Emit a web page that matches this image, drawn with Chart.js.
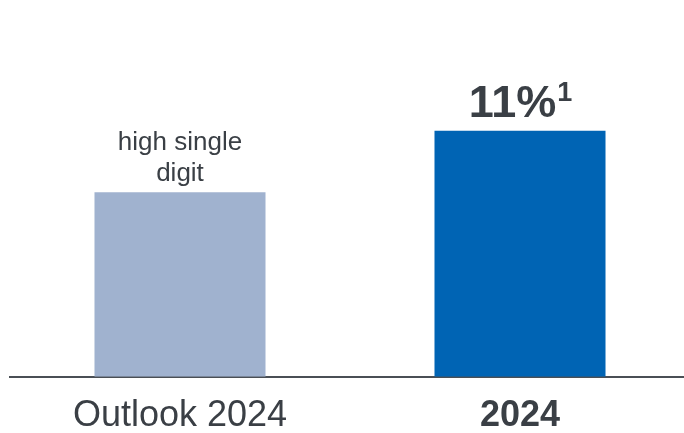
<!DOCTYPE html>
<html>
<head>
<meta charset="utf-8">
<script src="https://cdn.jsdelivr.net/npm/chart.js@4.4.1/dist/chart.umd.min.js"></script>
<style>
    html, body { margin: 0; padding: 0; background: #fff; overflow: hidden; }
    #outer { width: 684px; height: 433px; overflow: hidden; }
    #wrap { position: relative; width: 690px; height: 457px; }
</style>
</head>
<body>
<div id="outer"><div id="wrap"><canvas id="growth"></canvas></div></div>
<script>

const categories = ['Outlook 2024', '2024'];
const values = [8.25, 11];
const barColors = ['#A0B2CF', '#0064B4'];
const valueLabels = [['high single', 'digit'], ['11%']];
const footnotes = ['', '1'];

const textColor = '#3A3F45';

// writes the label above each bar, using the bar element positions
const barLabels = {
    id: 'barLabels',
    afterDatasetsDraw(chart) {
        const ctx = chart.ctx;
        const meta = chart.getDatasetMeta(0);
        ctx.save();
        ctx.fillStyle = textColor;
        ctx.textBaseline = 'alphabetic';
        meta.data.forEach((bar, i) => {
            const lines = valueLabels[i];
            if (footnotes[i]) {
                // bold figure with a raised footnote mark
                ctx.font = 'bold 45px "Liberation Sans", Arial, sans-serif';
                const w = ctx.measureText(lines[0]).width;
                ctx.font = 'bold 27px "Liberation Sans", Arial, sans-serif';
                const fw = ctx.measureText(footnotes[i]).width;
                const left = bar.x - (w + fw) / 2;
                const base = bar.y - 14;
                ctx.textAlign = 'left';
                ctx.font = 'bold 45px "Liberation Sans", Arial, sans-serif';
                ctx.fillText(lines[0], left, base);
                ctx.font = 'bold 27px "Liberation Sans", Arial, sans-serif';
                ctx.fillText(footnotes[i], left + w + 1, base - 16);
            } else {
                ctx.font = '26px "Liberation Sans", Arial, sans-serif';
                ctx.textAlign = 'center';
                const base = bar.y - 11;
                lines.forEach((line, k) => {
                    ctx.fillText(line, bar.x, base - (lines.length - 1 - k) * 31);
                });
            }
        });
        ctx.restore();
    }
};

new Chart(document.getElementById('growth').getContext('2d'), {
    type: 'bar',
    data: {
        labels: categories,
        datasets: [{
            data: values,
            backgroundColor: barColors,
            categoryPercentage: 1,
            barPercentage: 0.503
        }]
    },
    options: {
        responsive: true,
        maintainAspectRatio: false,
        animation: false,
        layout: { padding: { top: 19, left: 10, right: 0, bottom: 1 } },
        plugins: {
            legend: { display: false },
            tooltip: { enabled: false }
        },
        scales: {
            x: {
                grid: { display: false, drawTicks: false },
                border: { display: true, color: '#4A4F55', width: 2 },
                ticks: {
                    color: textColor,
                    padding: 18,
                    font: (c) => ({
                        family: '"Liberation Sans", Arial, sans-serif',
                        size: 36,
                        weight: c.index === 1 ? 'bold' : 'normal'
                    })
                }
            },
            y: {
                display: false,
                min: 0,
                max: 16
            }
        }
    },
    plugins: [barLabels]
});
</script>
</body>
</html>
